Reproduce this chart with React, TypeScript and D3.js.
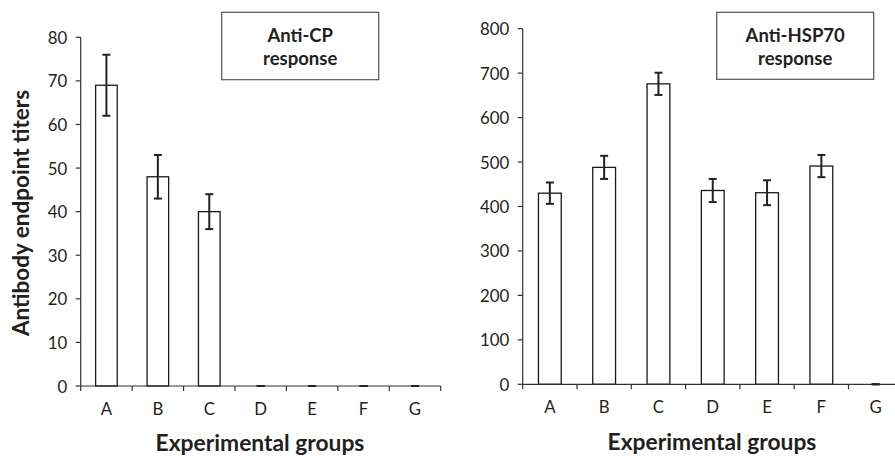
import React from "react";
import * as d3 from "d3";

const categories = ["A", "B", "C", "D", "E", "F", "G"];
const cpValues = [69, 48, 40, 0, 0, 0, 0];
const cpErrors = [7, 5, 4, 0, 0, 0, 0];
const hspValues = [430, 488, 676, 436, 431, 491, 0];
const hspErrors = [24, 26, 25, 26, 28, 25, 0];
const cpTicks = [0, 10, 20, 30, 40, 50, 60, 70, 80];
const hspTicks = [0, 100, 200, 300, 400, 500, 600, 700, 800];

const FONT = "Lato, 'Open Sans', sans-serif";
const TEXT = "#231f20";

type PanelProps = {
  values: number[];
  errors: number[];
  ticks: number[];
  yMax: number;
  xRange: [number, number];
  yRange: [number, number];
  legend: string[];
  legendBox: [number, number, number, number];
  titleX: number;
  titleY: number;
};

function Panel(p: PanelProps) {
  const x = d3.scaleBand<string>().domain(categories).range(p.xRange).padding(0);
  const y = d3.scaleLinear().domain([0, p.yMax]).range(p.yRange);
  const bw = x.bandwidth();
  const barW = bw * 0.42;
  const capW = 8;
  const x0 = p.xRange[0];
  const boundaries = d3.range(categories.length + 1).map((i) => x0 + i * bw);
  const [lx, ly, lw, lh] = p.legendBox;
  return (
    <g>
      {categories.map((c, i) => {
        const cx = (x(c) as number) + bw / 2;
        const top = y(p.values[i]);
        return (
          <rect
            key={"b" + c}
            x={cx - barW / 2}
            y={top}
            width={barW}
            height={y(0) - top}
            fill="#fff"
            stroke="#1a1a1a"
            strokeWidth={1.3}
          />
        );
      })}
      <line x1={x0} x2={x0} y1={y(p.yMax)} y2={y(0)} stroke="#333" strokeWidth={1.2} />
      <line x1={x0} x2={p.xRange[1]} y1={y(0)} y2={y(0)} stroke="#333" strokeWidth={1.2} />
      {p.ticks.map((t) => (
        <g key={"t" + t}>
          <line x1={x0 - 5} x2={x0} y1={y(t)} y2={y(t)} stroke="#333" strokeWidth={1.2} />
          <text
            x={x0 - 13.5}
            y={y(t)}
            textAnchor="end"
            dominantBaseline="central"
            fontFamily={FONT}
            fontSize={16.8}
            fill={TEXT}
          >
            {t}
          </text>
        </g>
      ))}
      {boundaries.map((bx, i) => (
        <line key={"xt" + i} x1={bx} x2={bx} y1={y(0)} y2={y(0) + 5} stroke="#333" strokeWidth={1.2} />
      ))}
      {categories.map((c) => (
        <text
          key={"l" + c}
          x={(x(c) as number) + bw / 2}
          y={y(0) + 22}
          textAnchor="middle"
          dominantBaseline="central"
          fontFamily={FONT}
          fontSize={16.8}
          fill={TEXT}
        >
          {c}
        </text>
      ))}
      {categories.map((c, i) => {
        const cx = (x(c) as number) + bw / 2;
        const hi = y(p.values[i] + p.errors[i]);
        const lo = y(p.values[i] - p.errors[i]);
        return (
          <g key={"e" + c} stroke="#222" strokeWidth={2}>
            <line x1={cx} x2={cx} y1={hi} y2={lo} />
            <line x1={cx - capW / 2} x2={cx + capW / 2} y1={hi} y2={hi} />
            <line x1={cx - capW / 2} x2={cx + capW / 2} y1={lo} y2={lo} />
          </g>
        );
      })}
      <rect x={lx} y={ly} width={lw} height={lh} fill="#fff" stroke="#555" strokeWidth={1.2} />
      {p.legend.map((s, i) => (
        <text
          key={"lg" + i}
          x={lx + lw / 2}
          y={ly + 22.5 + i * 23.5}
          textAnchor="middle"
          dominantBaseline="central"
          fontFamily={FONT}
          fontWeight="bold"
          fontSize={18.5}
          fill={TEXT}
        >
          {s}
        </text>
      ))}
      <text
        x={p.titleX}
        y={p.titleY}
        textAnchor="middle"
        dominantBaseline="central"
        fontFamily={FONT}
        fontWeight="bold"
        fontSize={22.8}
        fill={TEXT}
      >
        Experimental groups
      </text>
    </g>
  );
}

export default function App() {
  return (
    <svg
      width={895}
      height={456}
      style={{ position: "absolute", left: 0, top: 0, background: "#fff" }}
    >
      <rect width={895} height={456} fill="#fff" />
      <Panel
        values={cpValues}
        errors={cpErrors}
        ticks={cpTicks}
        yMax={80}
        xRange={[80.7, 440.7]}
        yRange={[386, 37.3]}
        legend={["Anti-CP", "response"]}
        legendBox={[221.7, 12.3, 157, 67.4]}
        titleX={260}
        titleY={442}
      />
      <Panel
        values={hspValues}
        errors={hspErrors}
        ticks={hspTicks}
        yMax={800}
        xRange={[522.7, 902.8]}
        yRange={[384.3, 28.7]}
        legend={["Anti-HSP70", "response"]}
        legendBox={[716.7, 12.3, 157, 67]}
        titleX={712}
        titleY={441}
      />
      <text
        transform="translate(20,213) rotate(-90)"
        textAnchor="middle"
        dominantBaseline="central"
        fontFamily={FONT}
        fontWeight="bold"
        fontSize={22.5}
        fill={TEXT}
      >
        Antibody endpoint titers
      </text>
    </svg>
  );
}
